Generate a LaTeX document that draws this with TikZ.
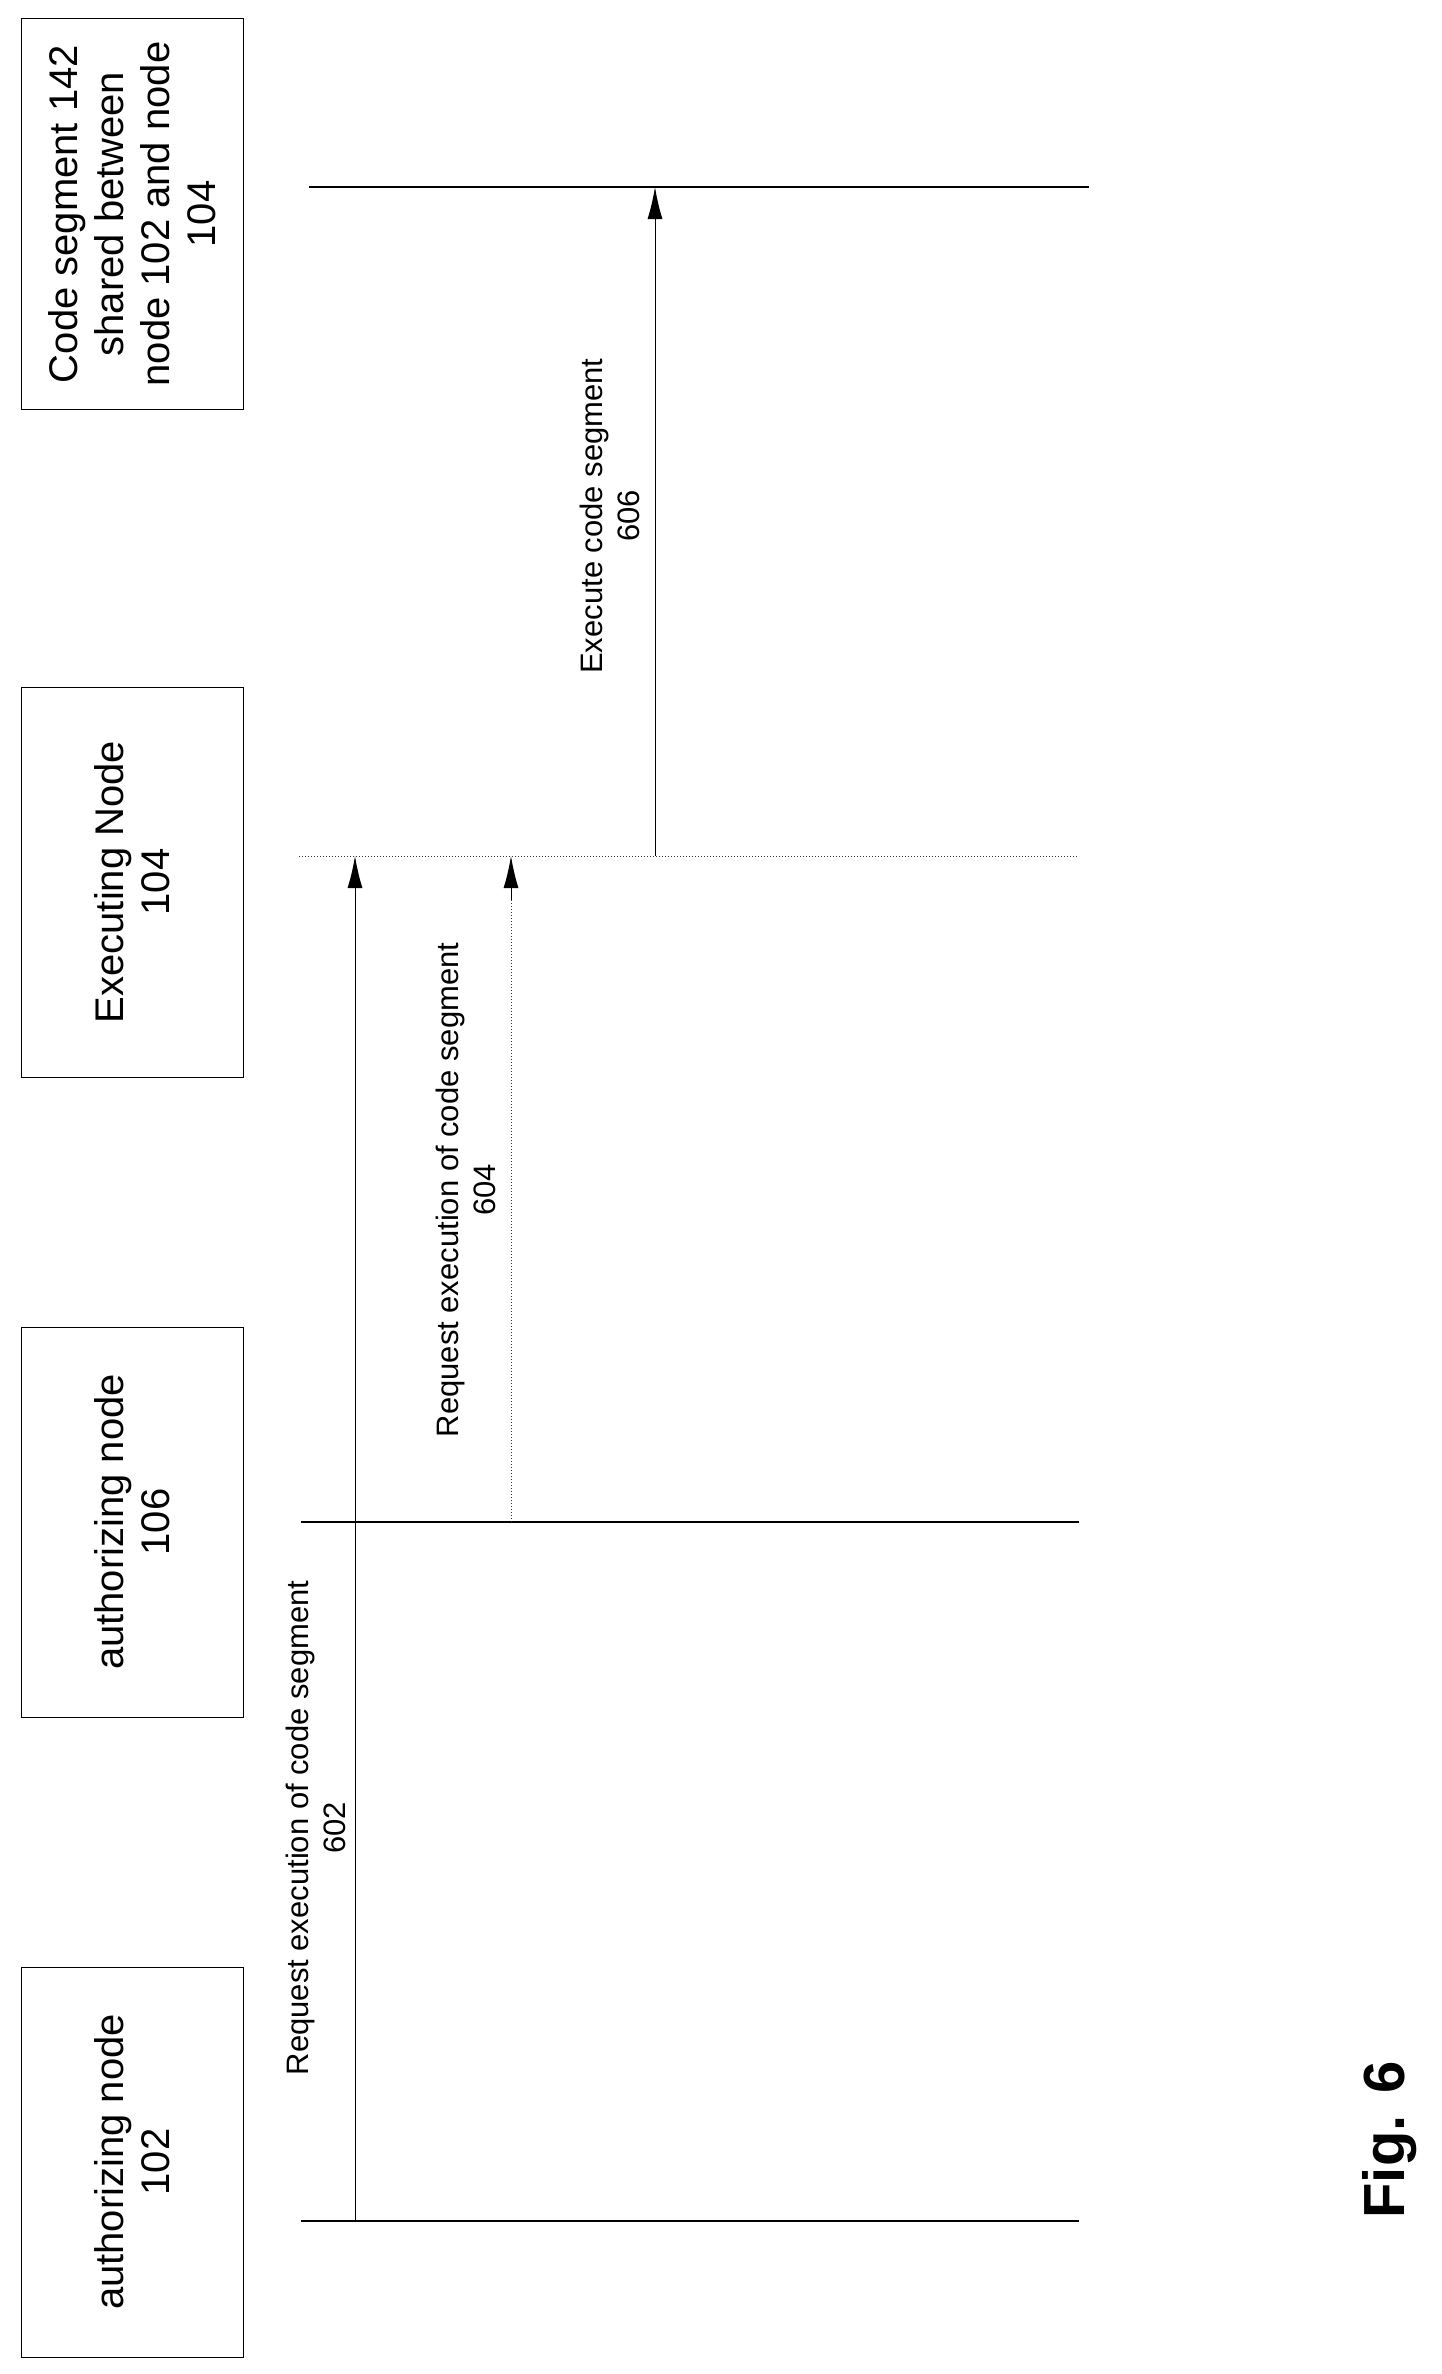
\documentclass[tikz,border=0pt]{standalone}
\usepackage{fontspec}
\setmainfont{Liberation Sans}
\usetikzlibrary{arrows.meta}
\begin{document}
\begin{tikzpicture}[x=1pt,y=-1pt,
  box/.style={draw,line width=1pt,minimum width=390pt,minimum height=222pt,rotate=90,align=center,font=\fontsize{40}{46}\selectfont},
  life/.style={line width=1.3pt},
  msg/.style={line width=1pt,-{Latex[length=32pt,width=15pt]}},
  lbl/.style={rotate=90,align=center,font=\fontsize{31}{37}\selectfont}]
\useasboundingbox (0,0) rectangle (1441,2374);
\node[box] (b142) at (132,214) {Code segment 142\\shared between\\node 102 and node\\104};
\node[box] (b104) at (132,882) {Executing Node\\104};
\node[box] (b106) at (132,1522) {authorizing node\\106};
\node[box] (b102) at (132,2162) {authorizing node\\102};
\coordinate (l142a) at (309,187); \coordinate (l142b) at (1089,187);
\coordinate (l104a) at (299,856); \coordinate (l104b) at (1079,856);
\coordinate (l106a) at (301,1522); \coordinate (l106b) at (1079,1522);
\coordinate (l102a) at (301,2221); \coordinate (l102b) at (1079,2221);
\draw[life] (l142a) -- (l142b);
\draw[line width=1pt,dotted,black!80] (l104a) -- (l104b);
\draw[life] (l106a) -- (l106b);
\draw[life] (l102a) -- (l102b);
\coordinate (s602) at (355,2221); \coordinate (e602) at (355,856);
\coordinate (s604) at (511,1522); \coordinate (e604) at (511,856); \coordinate (h604) at (511,900);
\coordinate (s606) at (655,856); \coordinate (e606) at (655,187);
\draw[msg] (s602) -- (e602);
\draw[line width=1pt,dotted,black!80] (s604) -- (h604);
\draw[msg] (h604) -- (e604);
\draw[msg] (s606) -- (e606);
\node[lbl] (t602) at (316,1828) {Request execution of code segment\\602};
\node[lbl] (t604) at (466,1190) {Request execution of code segment\\604};
\node[lbl] (t606) at (610,516) {Execute code segment\\606};
\node[rotate=90,font=\fontsize{58}{60}\selectfont\bfseries] (fig) at (1390,2140) {Fig. 6};
\end{tikzpicture}
\end{document}
